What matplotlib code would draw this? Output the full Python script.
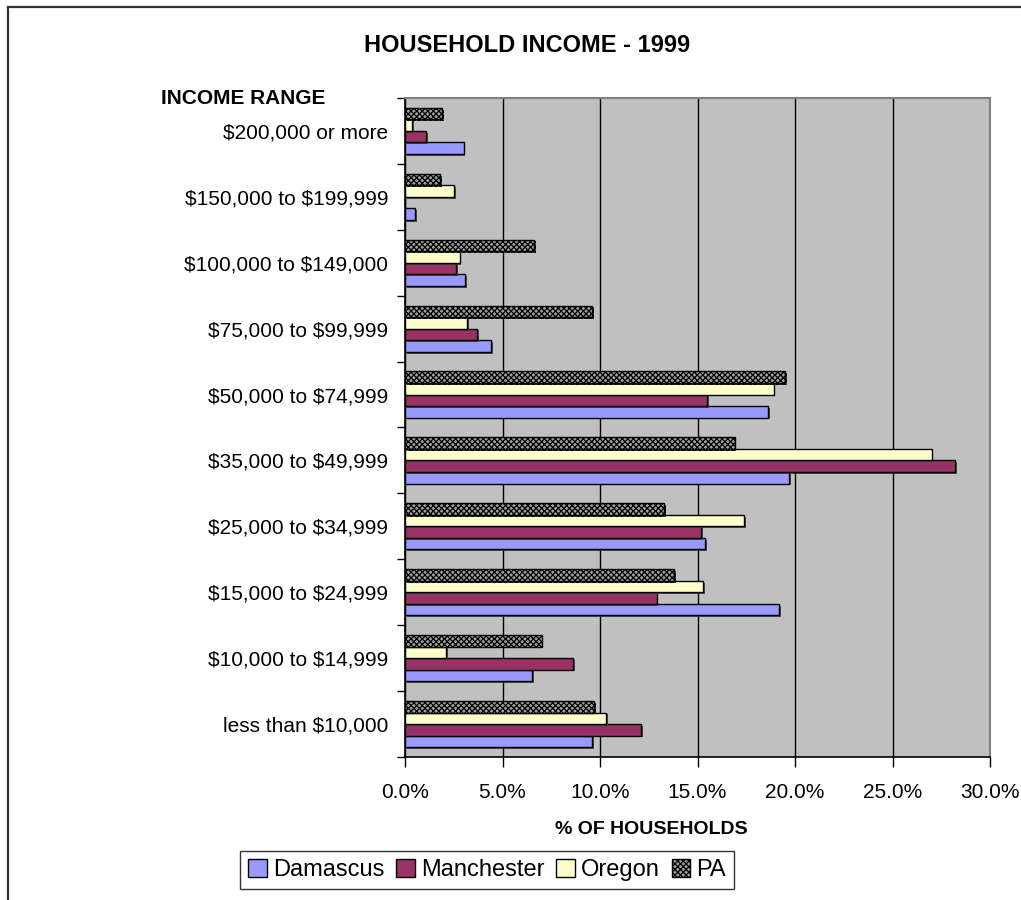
import numpy as np
import matplotlib
matplotlib.use("Agg")
import matplotlib.pyplot as plt
import matplotlib.patheffects as pe
from matplotlib.lines import Line2D
from matplotlib.ticker import FuncFormatter, FixedLocator

plt.rcParams['font.family'] = ['Liberation Sans', 'DejaVu Sans']
plt.rcParams['text.parse_math'] = False
plt.rcParams['hatch.linewidth'] = 0.9

# income brackets, bottom to top
income_ranges = ["less than $10,000", "$10,000 to $14,999", "$15,000 to $24,999",
                 "$25,000 to $34,999", "$35,000 to $49,999", "$50,000 to $74,999",
                 "$75,000 to $99,999", "$100,000 to $149,000", "$150,000 to $199,999",
                 "$200,000 or more"]

# share of households (%)
damascus = [9.6, 6.5, 19.2, 15.4, 19.7, 18.6, 4.4, 3.1, 0.5, 3.0]
manchester = [12.1, 8.6, 12.9, 15.2, 28.2, 15.5, 3.7, 2.6, 0.0, 1.1]
oregon = [10.3, 2.1, 15.3, 17.4, 27.0, 18.9, 3.2, 2.8, 2.5, 0.35]
pa = [9.7, 7.0, 13.8, 13.3, 16.9, 19.5, 9.6, 6.6, 1.8, 1.9]

series = [("Damascus", damascus, "#9999FF", None),
          ("Manchester", manchester, "#993366", None),
          ("Oregon", oregon, "#FFFFCC", None),
          ("PA", pa, "#A0A0A0", "xxxxxx")]

fig = plt.figure(figsize=(10.21, 9.0), dpi=100)
ax = fig.add_axes([405 / 1021, 143 / 900, 585 / 1021, 659 / 900])
ax.set_facecolor("#C0C0C0")

y = np.arange(len(income_ranges))
h = 0.175
shadow = [pe.SimplePatchShadow(offset=(1.3, -1.3), shadow_rgbFace="#404040", alpha=0.9), pe.Normal()]
handles = []
for i, (name, vals, color, hatch) in enumerate(series):
    bars = ax.barh(y + (i - 1.5) * h, vals, height=h, color=color, edgecolor="black",
                   linewidth=1.0, hatch=hatch, label=name, zorder=3)
    for b in bars:
        b.set_path_effects(shadow)
    handles.append(bars)

ax.set_xlim(0, 30)
ax.set_ylim(-0.5, len(income_ranges) - 0.5)
ax.set_xticks(np.arange(0, 31, 5))
ax.xaxis.set_major_formatter(FuncFormatter(lambda v, p: f"{v:.1f}%"))
ax.xaxis.grid(True, color="black", linewidth=1.0, zorder=1)
ax.set_axisbelow(True)

ax.set_yticks(y)
ax.set_yticklabels(income_ranges)
ax.yaxis.set_minor_locator(FixedLocator(np.arange(-0.5, len(income_ranges), 1.0)))
ax.tick_params(axis="y", which="major", length=0, pad=12, labelsize=15)
ax.tick_params(axis="y", which="minor", length=6, width=1.0, color="black", direction="out")
ax.tick_params(axis="x", which="major", length=7, width=1.0, pad=12, labelsize=15)

for side in ["top", "right"]:
    ax.spines[side].set_color("#808080")
    ax.spines[side].set_linewidth(1.5)
for side in ["left", "bottom"]:
    ax.spines[side].set_color("black")
    ax.spines[side].set_linewidth(1.2)

fig.text(527 / 1021, 1 - 46 / 900, "HOUSEHOLD INCOME - 1999", ha="center", va="center",
         fontsize=17, fontweight="bold")
fig.text(325 / 1021, 1 - 98 / 900, "INCOME RANGE", ha="right", va="center",
         fontsize=15, fontweight="bold")
fig.text(651 / 1021, 1 - 829 / 900, "% OF HOUSEHOLDS", ha="center", va="center",
         fontsize=14, fontweight="bold")

leg = fig.legend(handles=handles, loc="center", bbox_to_anchor=(487 / 1021, 1 - 870 / 900),
                 ncol=4, fontsize=17, frameon=True, fancybox=False, edgecolor="black",
                 handlelength=0.8, handleheight=0.8, handletextpad=0.25, columnspacing=0.5,
                 borderpad=0.35, borderaxespad=0)
leg.get_frame().set_linewidth(1.0)
for p in leg.get_patches():
    p.set_path_effects([])

# outer border of the chart area
fig.add_artist(Line2D([7.5 / 1021, 7.5 / 1021], [0, 1 - 7 / 900], color="#333333", linewidth=1.6))
fig.add_artist(Line2D([7.5 / 1021, 1], [1 - 7 / 900, 1 - 7 / 900], color="#333333", linewidth=1.6))

fig.savefig("out.png", dpi=100)
